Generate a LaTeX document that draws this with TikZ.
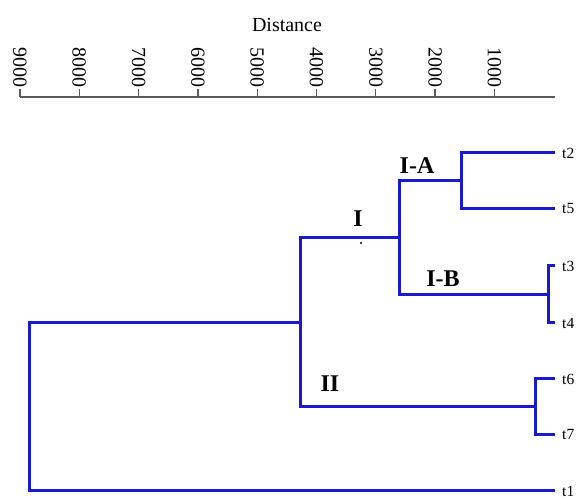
\documentclass[tikz,border=0pt]{standalone}
\usepackage{fontspec}
\setmainfont{Liberation Serif}
\usepackage{tikz}
\usetikzlibrary{positioning}
\definecolor{azul}{RGB}{25,25,205}
\definecolor{gris}{RGB}{90,90,90}
\tikzstyle{rama} = [draw=azul, line width=3pt]
\tikzstyle{eje} = [draw=gris, line width=1.6pt]
\tikzstyle{marca} = [rotate=-90, anchor=east, inner sep=1pt, font=\fontsize{20}{20}\selectfont]
\tikzstyle{hoja} = [anchor=west, inner xsep=7pt, inner ysep=0pt, font=\fontsize{15.5}{15.5}\selectfont]
\tikzstyle{grupo} = [font=\fontsize{24}{24}\selectfont\bfseries]

\begin{document}
\begin{tikzpicture}[x=1pt, y=1pt]
	\useasboundingbox (0,0) rectangle (581,500);
	% eje de distancias
	\node[font=\fontsize{20}{20}\selectfont] (titulo) at (287,475) {Distance};
	\coordinate (ejeI) at (20,403);
	\coordinate (ejeF) at (555,403);
	\draw[eje] (ejeI) -- (ejeF);
	\foreach \d [count=\i from 0] in {9000,8000,7000,6000,5000,4000,3000,2000,1000}{
		\coordinate (m\i) at (20+59.3*\i,403);
		\node[marca] (d\i) at (20+59.3*\i,411) {\d};
		\draw[eje, line width=1.3pt] (m\i) -- (d\i.east);
	}
	% hojas
	\node[hoja] (t2) at (555,347) {t2};
	\node[hoja] (t5) at (555,291) {t5};
	\node[hoja] (t3) at (555,234) {t3};
	\node[hoja] (t4) at (555,177) {t4};
	\node[hoja] (t6) at (555,121) {t6};
	\node[hoja] (t7) at (555,65) {t7};
	\node[hoja] (t1) at (555,9) {t1};
	% uniones
	\coordinate (nIA) at (461,319);
	\coordinate (nIB) at (548,205.5);
	\coordinate (nI) at (399,262);
	\coordinate (nII) at (535,93);
	\coordinate (nSup) at (300,177.5);
	\coordinate (nRaiz) at (29,93);
	\draw[rama] (t2.west) -| (nIA) |- (t5.west);
	\draw[rama] (t3.west) -| (nIB) |- (t4.west);
	\draw[rama] (t6.west) -| (nII) |- (t7.west);
	\draw[rama] (nIA) -| (nI) |- (nIB);
	\draw[rama] (nI) -| (nSup) |- (nII);
	\draw[rama] (nSup) -| (nRaiz) |- (t1.west);
	% grupos
	\node[grupo] (gIA) at (417,334) {I-A};
	\node[grupo] (gI) at (358,281) {I};
	\node[grupo] (gIB) at (443,221) {I-B};
	\node[grupo] (gII) at (330,116) {II};
	\fill (361,257) circle (1.2pt);
\end{tikzpicture}
\end{document}
